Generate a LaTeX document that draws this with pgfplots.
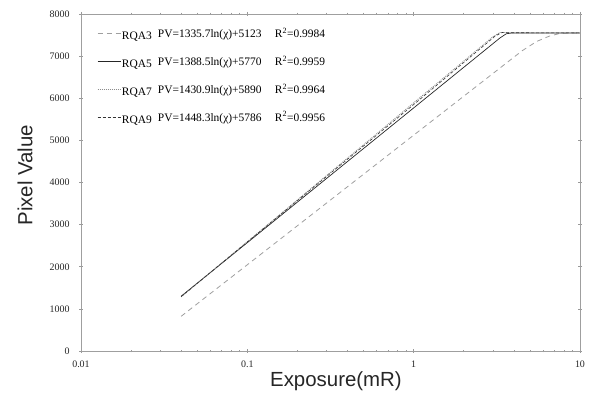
\documentclass[border=0pt]{standalone}
\usepackage{pgfplots}
\pgfplotsset{compat=1.18}
\usetikzlibrary{calc}
\usepackage{fontspec}
\setmainfont{Liberation Serif}
\newfontfamily\labfont{Liberation Sans}
\begin{document}
\begin{tikzpicture}
\begin{axis}[
  scale only axis, width=499bp, height=337bp,
  clip=false,
  xmode=log, xmin=0.01, xmax=10,
  ymin=0, ymax=8000,
  xtick={0.01,0.1,1,10}, xticklabels={0.01,0.1,1,10},
  ytick={0,1000,...,8000},
  scaled y ticks=false,
  y tick label style={/pgf/number format/fixed, /pgf/number format/1000 sep={}},
  /pgf/number format/assume math mode=true,
  minor tick num=0,
  axis line style={gray!75, line width=0.8pt},
  tick style={gray!80, line width=0.6pt},
  tick align=center, major tick length=4bp,
  ticklabel style={font=\fontsize{10}{11}\selectfont, text=black!85},
  yticklabel style={xshift=-6bp},
  xticklabel style={yshift=-4bp},
  legend cell align=left,
  legend style={draw=none, fill=none, at={(axis description cs:0.032,0.962)}, anchor=north west,
    inner sep=0pt, row sep=14.8pt, font=\fontsize{11.5}{13}\selectfont,
    nodes={inner sep=1pt}},
  legend image code/.code={\draw[#1] (0bp,0bp) -- (23bp,0bp);},
]
\addplot[gray!75, line width=0.8pt, dash pattern=on 5bp off 4bp] coordinates {
 (0.04,823) (1,5123) (4.5,7130) (5.5,7350) (6.5,7470) (7.5,7535) (8.5,7550) (10,7550)};
\addlegendentry{\makebox[36bp][l]{\raisebox{-2bp}{RQA3}}\makebox[117bp][l]{PV=1335.7ln(χ)+5123}R\textsuperscript{2}=0.9984}
\addplot[black!85, line width=0.7pt] coordinates {
 (0.04,1300) (1,5770) (3.3,7430) (3.6,7530) (3.9,7550) (10,7550)};
\addlegendentry{\makebox[36bp][l]{\raisebox{-2bp}{RQA5}}\makebox[117bp][l]{PV=1388.5ln(χ)+5770}R\textsuperscript{2}=0.9959}
\addplot[gray!90, line width=0.8pt, dash pattern=on 1bp off 1bp] coordinates {
 (0.04,1284) (1,5890) (3.0,7462) (3.3,7560) (3.6,7560) (4.0,7550) (10,7550)};
\addlegendentry{\makebox[36bp][l]{\raisebox{-2bp}{RQA7}}\makebox[117bp][l]{PV=1430.9ln(χ)+5890}R\textsuperscript{2}=0.9964}
\addplot[black!80, line width=0.6pt, dash pattern=on 3bp off 2bp] coordinates {
 (0.04,1290) (1,5850) (3.1,7480) (3.4,7560) (3.8,7555) (10,7550)};
\addlegendentry{\makebox[36bp][l]{\raisebox{-2bp}{RQA9}}\makebox[117bp][l]{PV=1448.3ln(χ)+5786}R\textsuperscript{2}=0.9956}
\node[rotate=90, font=\labfont\fontsize{20.5}{22}\selectfont, text=black!85] at (rel axis cs:-0.112,0.522) {Pixel Value};
\node[font=\labfont\fontsize{20.5}{22}\selectfont, text=black!85] at (rel axis cs:0.511,-0.089) {Exposure(mR)};
\end{axis}
\pgfresetboundingbox
\path ($(current axis.south west)+(-81bp,-52bp)$) rectangle ($(current axis.north east)+(16bp,14bp)$);
\end{tikzpicture}
\end{document}
